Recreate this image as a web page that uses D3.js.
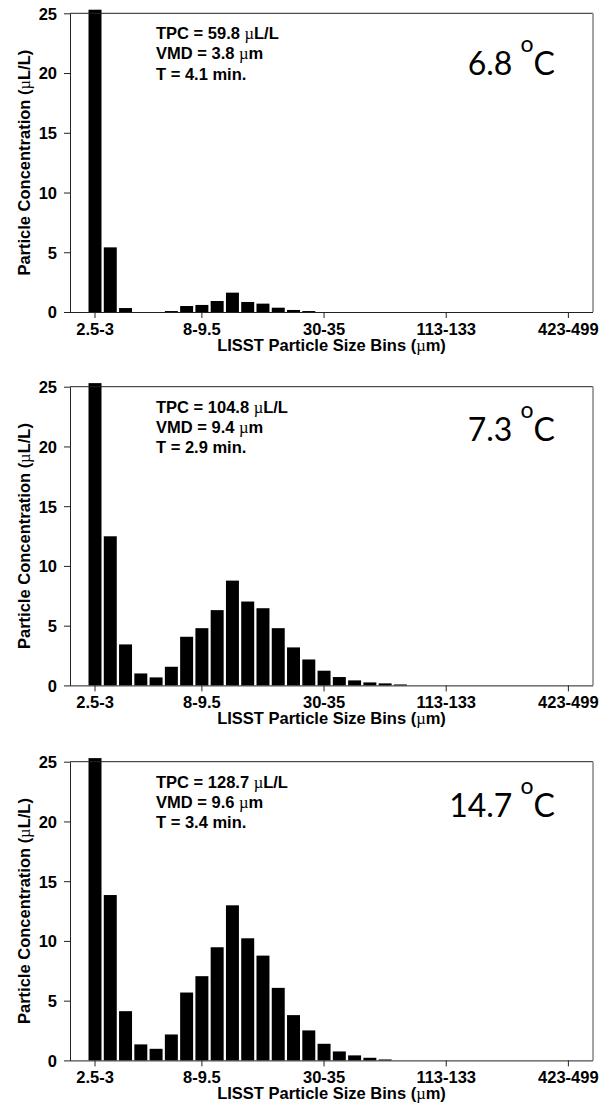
<!DOCTYPE html>
<html>
<head>
<meta charset="utf-8">
<script src="https://cdn.jsdelivr.net/npm/d3@7"></script>
<style>
  html, body { margin: 0; padding: 0; background: #fff; }
  svg { display: block; }
  text { font-family: "Liberation Sans", Arial, sans-serif; }
</style>
</head>
<body>
<svg id="chart" width="600" height="1110"></svg>
<script>
// ---- data ----
const bins = ["2.5-3","3-3.5","3.5-4.1","4.1-4.8","4.8-5.7","5.7-6.8","6.8-8","8-9.5",
  "9.5-11","11-13","13-15","15-18","18-22","22-25","25-30","30-35",
  "35-42","42-49","49-58","58-68","68-81","81-95","95-113","113-133",
  "133-157","157-185","185-218","218-257","257-304","304-358","358-423","423-499"];
const tickLabels = ["2.5-3","8-9.5","30-35","113-133","423-499"];
const yTicks = [0, 5, 10, 15, 20, 25];

const values68 = [25.3, 5.41, 0.33, 0, 0, 0.08, 0.5, 0.59, 0.92, 1.62, 0.84, 0.70, 0.36, 0.17, 0.08, 0,
  0, 0, 0, 0, 0, 0, 0, 0, 0, 0, 0, 0, 0, 0, 0, 0];
const values73 = [25.3, 12.48, 3.43, 1.0, 0.67, 1.56, 4.07, 4.79, 6.30, 8.77, 7.02, 6.46, 4.79, 3.18, 2.17, 1.23,
  0.70, 0.42, 0.25, 0.17, 0.08, 0, 0, 0, 0, 0, 0, 0, 0, 0, 0, 0];
const values147 = [25.3, 13.84, 4.12, 1.34, 0.97, 2.17, 5.68, 7.05, 9.47, 12.98, 10.22, 8.77, 6.07, 3.79, 2.51, 1.39,
  0.75, 0.42, 0.22, 0.08, 0, 0, 0, 0, 0, 0, 0, 0, 0, 0, 0, 0];

const temps = ["6.8", "7.3", "14.7"];
const tpc = ["59.8", "104.8", "128.7"];
const vmd = ["3.8", "9.4", "9.6"];
const tMin = ["4.1", "2.9", "3.4"];
const seriesValues = [values68, values73, values147];

// ---- layout ----
const left = 70, right = 593;
const panelTops = [13.3, 386.7, 761.7];
const panelH = 298.7;
const tempOffsets = [61.7, 54, 54.8];
const fontBold = "bold 16.5px 'Liberation Sans', Arial, sans-serif";

const svg = d3.select("#chart");

const x = d3.scaleBand()
  .domain(bins)
  .range([87.37, 87.37 + 32 * 15.27])
  .paddingInner(0.15)
  .paddingOuter(0.075);

seriesValues.forEach((vals, p) => {
  const top = panelTops[p];
  const bottom = top + panelH;
  const y = d3.scaleLinear().domain([0, 25]).range([bottom, top]);
  const g = svg.append("g");

  // bars
  g.append("g").selectAll("rect")
    .data(vals.map((v, i) => ({ bin: bins[i], v })).filter(d => d.v > 0))
    .join("rect")
    .attr("x", d => x(d.bin))
    .attr("width", x.bandwidth())
    .attr("y", d => y(d.v))
    .attr("height", d => y(0) - y(d.v))
    .attr("fill", "#000");

  // frame: top black, right gray
  g.append("line").attr("x1", left).attr("x2", right).attr("y1", top).attr("y2", top)
    .attr("stroke", "#222").attr("stroke-width", 1);
  g.append("line").attr("x1", right).attr("x2", right).attr("y1", top).attr("y2", bottom)
    .attr("stroke", "#999").attr("stroke-width", 1.8);

  // y axis
  const yAxis = d3.axisLeft(y).tickValues(yTicks).tickSize(6).tickSizeOuter(0).tickPadding(7);
  const yg = g.append("g").attr("transform", `translate(${left},0)`).call(yAxis);
  yg.select(".domain").attr("stroke", "#222");
  yg.selectAll(".tick line").attr("stroke", "#222");
  yg.selectAll(".tick text").style("font", fontBold).attr("fill", "#000").attr("dy", "0.36em");

  // x axis
  const xAxis = d3.axisBottom(x).tickValues(tickLabels).tickSize(6).tickSizeOuter(0).tickPadding(5);
  const xg = g.append("g").attr("transform", `translate(0,${bottom})`).call(xAxis);
  xg.select(".domain").attr("d", `M${left},0.5H${right}`).attr("stroke", "#222");
  xg.selectAll(".tick line").attr("stroke", "#222");
  xg.selectAll(".tick text").style("font", fontBold).attr("fill", "#000");

  // x title
  const xt = g.append("text")
    .attr("x", (left + right) / 2).attr("y", bottom + 38.7)
    .attr("text-anchor", "middle").style("font", fontBold).attr("fill", "#000");
  xt.append("tspan").text("LISST Particle Size Bins (");
  xt.append("tspan").text("µ").style("font-family", "'Liberation Serif', serif").style("font-weight", "normal");
  xt.append("tspan").text("m)");

  // y title
  const yt = g.append("text")
    .attr("transform", `translate(29.5,${(top + bottom) / 2}) rotate(-90)`)
    .attr("text-anchor", "middle").style("font", fontBold).attr("fill", "#000");
  yt.append("tspan").text("Particle Concentration (");
  yt.append("tspan").text("µ").style("font-family", "'Liberation Serif', serif").style("font-weight", "normal");
  yt.append("tspan").text("L/L)");

  // annotation
  const lines = [
    ["TPC = " + tpc[p] + " ", "µ", "L/L"],
    ["VMD = " + vmd[p] + " ", "µ", "m"],
    ["T = " + tMin[p] + " min.", "", ""]
  ];
  const offs = [25.8, 46, 66.5];
  lines.forEach((ln, k) => {
    const t = g.append("text").attr("x", 156).attr("y", top + offs[k])
      .style("font", fontBold).attr("fill", "#000");
    t.append("tspan").text(ln[0]);
    if (ln[1]) {
      t.append("tspan").text(ln[1]).style("font-family", "'Liberation Serif', serif").style("font-weight", "normal");
      t.append("tspan").text(ln[2]);
    }
  });

  // temperature label
  const tt = g.append("text")
    .attr("x", 555).attr("y", top + tempOffsets[p])
    .attr("text-anchor", "end")
    .style("font-family", "Lato, 'Open Sans', sans-serif")
    .style("font-size", "32px").attr("fill", "#000");
  tt.append("tspan").text(temps[p] + " ");
  tt.append("tspan").text("o").style("font-size", "23px").attr("dy", -23);
  tt.append("tspan").text("C").attr("dy", 23);
});
</script>
</body>
</html>
